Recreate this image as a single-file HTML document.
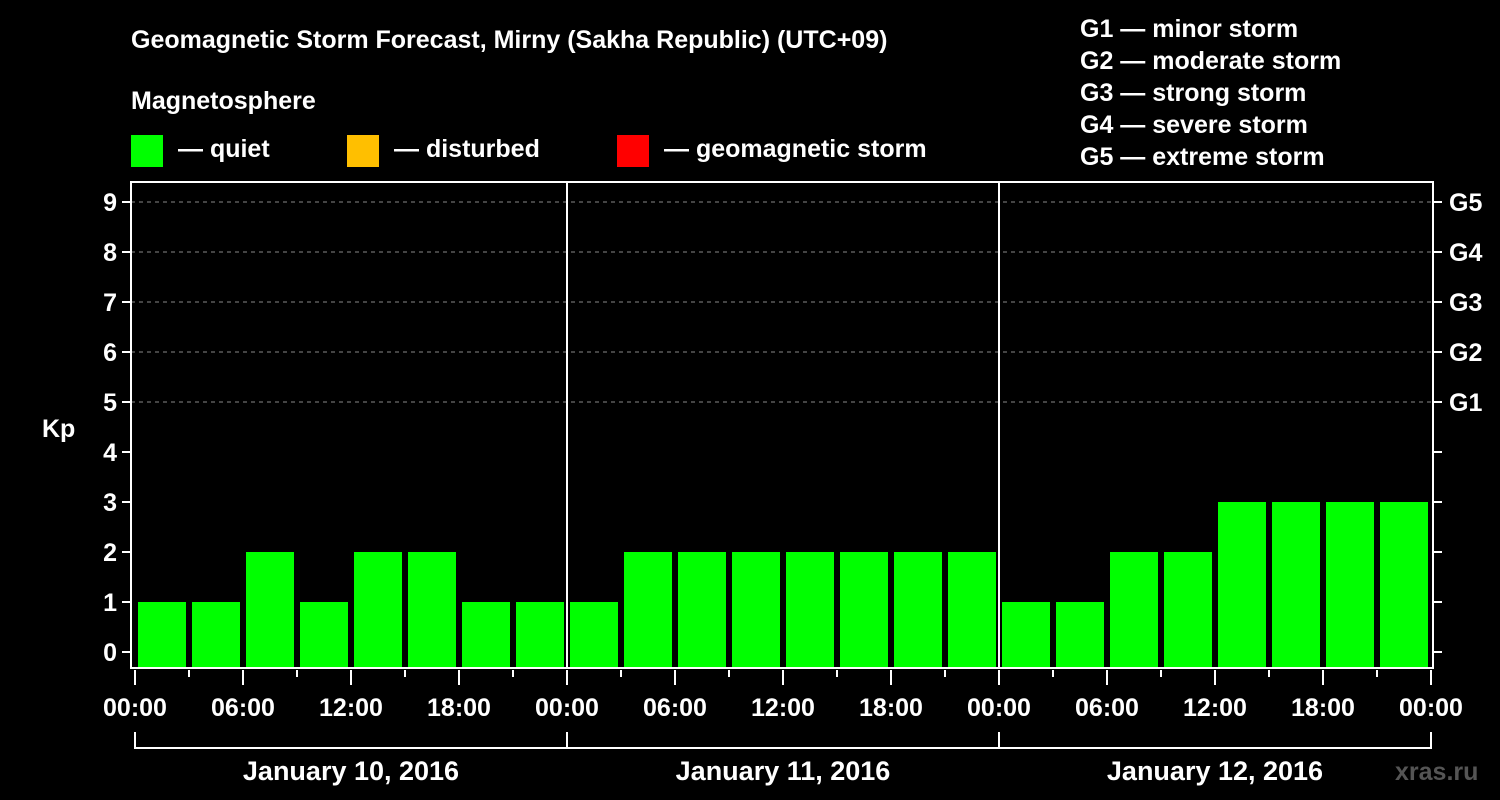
<!DOCTYPE html>
<html><head><meta charset="utf-8"><style>
html,body{margin:0;padding:0;background:#000;width:1500px;height:800px;overflow:hidden}
svg{display:block;font-family:"Liberation Sans",Arial,sans-serif;font-weight:bold}
</style></head><body>
<svg id="chart" width="1500" height="800" viewBox="0 0 1500 800">
<text x="131" y="48" fill="#fff" font-size="25">Geomagnetic Storm Forecast, Mirny (Sakha Republic) (UTC+09)</text>
<text x="131" y="109" fill="#fff" font-size="25">Magnetosphere</text>
<g>
<rect x="131" y="135" width="32" height="32" fill="#00ff00"/>
<text x="178" y="157" fill="#fff" font-size="25">— quiet</text>
<rect x="347" y="135" width="32" height="32" fill="#ffbf00"/>
<text x="394" y="157" fill="#fff" font-size="25">— disturbed</text>
<rect x="617" y="135" width="32" height="32" fill="#ff0000"/>
<text x="664" y="157" fill="#fff" font-size="25">— geomagnetic storm</text>
</g>
<g fill="#fff" font-size="25">
<text x="1080" y="37">G1 — minor storm</text>
<text x="1080" y="69">G2 — moderate storm</text>
<text x="1080" y="101">G3 — strong storm</text>
<text x="1080" y="133">G4 — severe storm</text>
<text x="1080" y="165">G5 — extreme storm</text>
</g>
<text x="42" y="437" fill="#fff" font-size="25">Kp</text>
<g id="grid"></g><g id="bars"></g><g id="axes"></g>
<text x="1395" y="780" fill="#555" font-size="25">xras.ru</text>
</svg>
<script>
const days = ["January 10, 2016","January 11, 2016","January 12, 2016"];
const hourLabels = ["00:00","06:00","12:00","18:00"];
const kpValues = [1,1,2,1,2,2,1,1, 1,2,2,2,2,2,2,2, 1,1,2,2,3,3,3,3];
const yTicks = [0,1,2,3,4,5,6,7,8,9];
const gLabels = {5:"G1",6:"G2",7:"G3",8:"G4",9:"G5"};
const NS="http://www.w3.org/2000/svg";
const X0=135, DAYW=432, L=131, R=1433, T=182, B=668;
const xs = i => X0 + i*DAYW/8;
const ys = v => 652 - v*50;
function mk(tag, attrs, parent){const e=document.createElementNS(NS,tag);for(const k in attrs)e.setAttribute(k,attrs[k]);parent.appendChild(e);return e;}
const grid=document.getElementById('grid'), bars=document.getElementById('bars'), axes=document.getElementById('axes');
yTicks.forEach(v=>{
  if(v>=5){const g=mk('line',{x1:L,x2:R,y1:ys(v),y2:ys(v),stroke:'#888','stroke-dasharray':'4,4','stroke-width':1},grid);
  
  }
  const t=mk('line',{x1:L-9,x2:L,y1:ys(v),y2:ys(v),stroke:'#fff','stroke-width':2},axes);
  
  
  const t2=mk('line',{x1:R,x2:R+9,y1:ys(v),y2:ys(v),stroke:'#fff','stroke-width':2},axes);
  
  
  const lb=mk('text',{x:L-14,y:ys(v)+9,fill:'#fff','font-size':25,'text-anchor':'end'},axes);
  lb.textContent=v;
  
  
  if(gLabels[v]){const g=mk('text',{x:R+16,y:ys(v)+9,fill:'#fff','font-size':25},axes);
  g.textContent=gLabels[v];
  
  }
});
kpValues.forEach((v,i)=>{
  const c=v>=5?'#ff0000':(v>=4?'#ffbf00':'#00ff00');
  const b=mk('rect',{x:xs(i)+3,y:ys(v),width:48,height:B-ys(v),fill:c},bars);
  
  
});
const frame=mk('rect',{x:L,y:T,width:R-L,height:B-T,fill:'none',stroke:'#fff','stroke-width':2},axes);


for(let d=0; d<=days.length; d++){
  const x=X0+d*DAYW;
  if(d>0&&d<days.length){const l=mk('line',{x1:x,x2:x,y1:T,y2:B,stroke:'#fff','stroke-width':2},axes);
  
  }
}
for(let i=0;i<=kpValues.length;i++){
  const x=xs(i), major=i%2===0;
  const t=mk('line',{x1:x,x2:x,y1:B+2,y2:major?B+17:B+9,stroke:'#fff','stroke-width':2},axes);
  
  
  if(major){const lb=mk('text',{x:x,y:716,fill:'#fff','font-size':25,'text-anchor':'middle'},axes);
  lb.textContent=hourLabels[(i/2)%4];
  
  }
}
days.forEach((d,k)=>{
  const x1=X0+k*DAYW, x2=x1+DAYW;
  const p=mk('path',{d:`M${x1} 732V748H${x2}V732`,fill:'none',stroke:'#fff','stroke-width':2},axes);
  
  
  const t=mk('text',{x:(x1+x2)/2,y:780,fill:'#fff','font-size':27,'text-anchor':'middle'},axes);
  t.textContent=d;
  
  
});
</script>
</body></html>
